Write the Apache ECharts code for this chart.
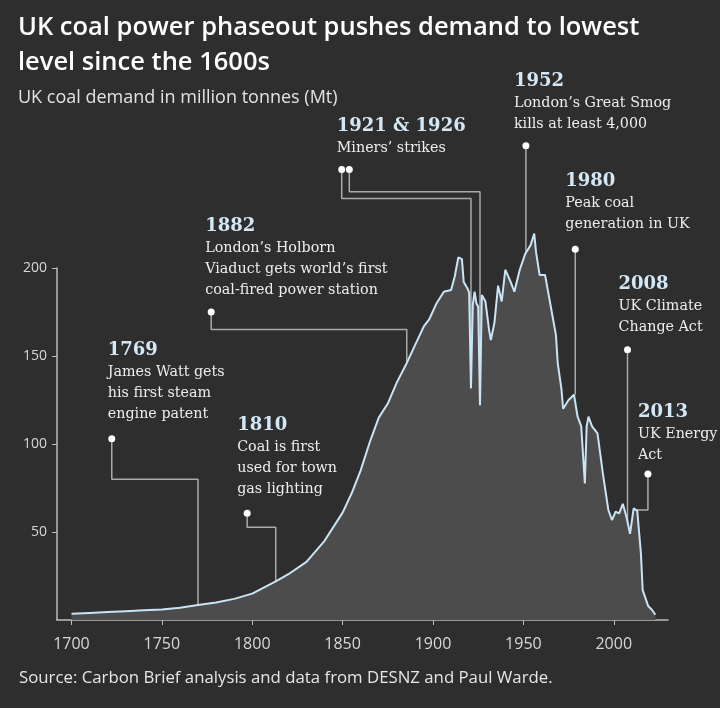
<!DOCTYPE html>
<html>
<head>
<meta charset="utf-8">
<script src="https://cdn.jsdelivr.net/npm/echarts@6.0.0/dist/echarts.min.js"></script>
<style>
  html, body { margin: 0; padding: 0; background: #2e2e2e; }
  #chart { width: 720px; height: 708px; }
</style>
</head>
<body>
<div id="chart"></div>
<script>
// UK coal demand, million tonnes
var years = [1700, 1710, 1720, 1730, 1740, 1750, 1760, 1770, 1780, 1790, 1800, 1813, 1820, 1830, 1840,
  1850, 1855, 1860, 1865, 1870, 1875, 1880, 1885, 1890, 1895, 1898, 1902, 1906, 1910, 1912, 1914,
  1916, 1917, 1919, 1920, 1921, 1922, 1923, 1924, 1925, 1926, 1927, 1929, 1931, 1932, 1934, 1936,
  1938, 1940, 1943, 1945, 1948, 1951, 1954, 1956, 1957, 1959, 1962, 1965, 1968, 1969, 1971, 1972,
  1973, 1975, 1978, 1980, 1982, 1984, 1985, 1986, 1988, 1991, 1994, 1997, 1999, 2001, 2003, 2005,
  2007, 2009, 2011, 2013, 2014, 2015, 2016, 2017, 2018, 2019, 2020, 2021, 2022, 2023];
var demand = [3.5, 4, 4.5, 5, 5.5, 6, 7, 8.5, 10, 12, 15, 22, 26, 33, 45,
  61, 72, 85, 101, 115, 123, 135, 145, 156, 167, 171, 180, 186.5, 187.5, 195, 206,
  205, 192, 188.5, 186, 131.6, 179, 186.5, 180, 178, 122, 184.6, 181, 165, 159, 169, 190,
  181, 199, 192, 186.5, 199, 208, 213, 219.6, 209, 196, 196, 179, 162, 146, 131.6, 120,
  119, 125, 128, 115.5, 110, 77.6, 110, 115.5, 110, 106, 83, 62.5, 56.8, 61.5, 60.6, 66,
  58.7, 49, 63.4, 62, 50, 38, 17, 14, 11, 8, 7, 6, 5, 3];

var xTickYears = [1700, 1750, 1800, 1850, 1900, 1950, 2000];
var yTickValues = [50, 100, 150, 200];

var noteTitles = ['1769', '1810', '1882', '1921 & 1926', '1952', '1980', '2008', '2013'];
var noteLines = [
  ['James Watt gets', 'his first steam', 'engine patent'],
  ['Coal is first', 'used for town', 'gas lighting'],
  ['London\u2019s Holborn', 'Viaduct gets world\u2019s first', 'coal-fired power station'],
  ['Miners\u2019 strikes'],
  ['London\u2019s Great Smog', 'kills at least 4,000'],
  ['Peak coal', 'generation in UK'],
  ['UK Climate', 'Change Act'],
  ['UK Energy', 'Act']
];
// connector paths in [year, Mt]; first point is the dot
var notePaths = [
  [[1722.3, 103], [1722.3, 80], [1770, 80], [1770, 8.6]],
  [[1797.2, 60.6], [1797.2, 52.7], [1813, 52.7], [1813, 22]],
  [[1777.3, 175], [1777.3, 165], [1885.5, 165], [1885.5, 146]],
  [[1849.5, 256], [1849.5, 239.5], [1921, 239.5], [1921, 131.6]],
  [[1853.7, 256], [1853.7, 243.3], [1926, 243.3], [1926, 122]],
  [[1951.4, 269.4], [1951.4, 209]],
  [[1978.7, 210.6], [1978.7, 128]],
  [[2007.6, 153.5], [2007.6, 51]],
  [[2018.9, 82.9], [2018.9, 62.5], [2011.5, 62.5]]
];
var noteOwner = [0, 1, 2, 3, 3, 4, 5, 6, 7];
// label shift from the dot, px
var labelShift = [[-4, -7], [-10, -7], [-6, -5], [-5, -4], [-12, -5], [-10, -8], [-9, -6], [-10, -2]];

var chart = echarts.init(document.getElementById('chart'));

var series = [{
  type: 'line',
  data: years.map(function (y, i) { return [y, demand[i]]; }),
  symbol: 'none',
  clip: false,
  z: 3,
  silent: true,
  lineStyle: { color: '#c9e4f4', width: 2 },
  areaStyle: { color: '#4c4c4c', opacity: 1 }
}];

notePaths.forEach(function (path, k) {
  var owner = noteOwner[k];
  var first = noteOwner.indexOf(owner) === k;
  var pts = path.map(function (p, j) {
    if (j > 0) return p;
    var item = { value: p, symbol: 'circle', symbolSize: 7, itemStyle: { color: '#ffffff' } };
    if (first) {
      var txt = '{y|' + noteTitles[owner] + '}';
      noteLines[owner].forEach(function (l) { txt += '\n{d|' + l + '}'; });
      item.label = {
        show: true,
        position: 'top',
        distance: 3,
        align: 'left',
        verticalAlign: 'bottom',
        offset: labelShift[owner],
        formatter: txt,
        rich: {
          y: { fontFamily: 'DejaVu Serif', fontWeight: 'bold', fontSize: 18, color: '#d3e7f5', lineHeight: 23 },
          d: { fontFamily: 'DejaVu Serif', fontSize: 14.3, color: '#ededed', lineHeight: 21 }
        }
      };
    }
    return item;
  });
  series.push({
    type: 'line',
    data: pts,
    symbol: 'none',
    clip: false,
    z: 2,
    silent: true,
    lineStyle: { color: '#aaaaaa', width: 1.5 }
  });
});

chart.setOption({
  backgroundColor: '#2e2e2e',
  animation: false,
  title: [{
    text: 'UK coal power phaseout pushes demand to lowest\nlevel since the 1600s',
    left: 13, top: 5,
    textStyle: { fontFamily: 'Open Sans', fontWeight: 600, fontSize: 25.5, lineHeight: 35, color: '#ffffff' }
  }, {
    text: 'UK coal demand in million tonnes (Mt)',
    left: 13, top: 84,
    textStyle: { fontFamily: 'Open Sans', fontWeight: 'normal', fontSize: 18, color: '#e2e2e2' }
  }, {
    text: 'Source: Carbon Brief analysis and data from DESNZ and Paul Warde.',
    left: 14, top: 665,
    textStyle: { fontFamily: 'Open Sans', fontWeight: 'normal', fontSize: 16.8, color: '#e6e6e6' }
  }],
  grid: { left: 57, right: 52, top: 268, bottom: 88 },
  xAxis: {
    type: 'value',
    min: 1692,
    max: 2030,
    splitLine: { show: false },
    axisLine: { show: true, onZero: false, lineStyle: { color: '#bdbdbd', width: 1.5 } },
    axisTick: { show: true, customValues: xTickYears, length: 5, lineStyle: { color: '#bdbdbd' } },
    axisLabel: {
      customValues: xTickYears, margin: 16, color: '#d8d8d8', fontFamily: 'Open Sans', fontSize: 16,
      formatter: function (v) { return String(v); }
    }
  },
  yAxis: {
    type: 'value',
    min: 0,
    max: 200,
    splitLine: { show: false },
    axisLine: { show: true, onZero: false, lineStyle: { color: '#bdbdbd', width: 1.5 } },
    axisTick: { show: true, customValues: yTickValues, length: 5, lineStyle: { color: '#bdbdbd' } },
    axisLabel: { customValues: yTickValues, margin: 10, color: '#d8d8d8', fontFamily: 'Open Sans', fontSize: 14 }
  },
  series: series
});
</script>
</body>
</html>
